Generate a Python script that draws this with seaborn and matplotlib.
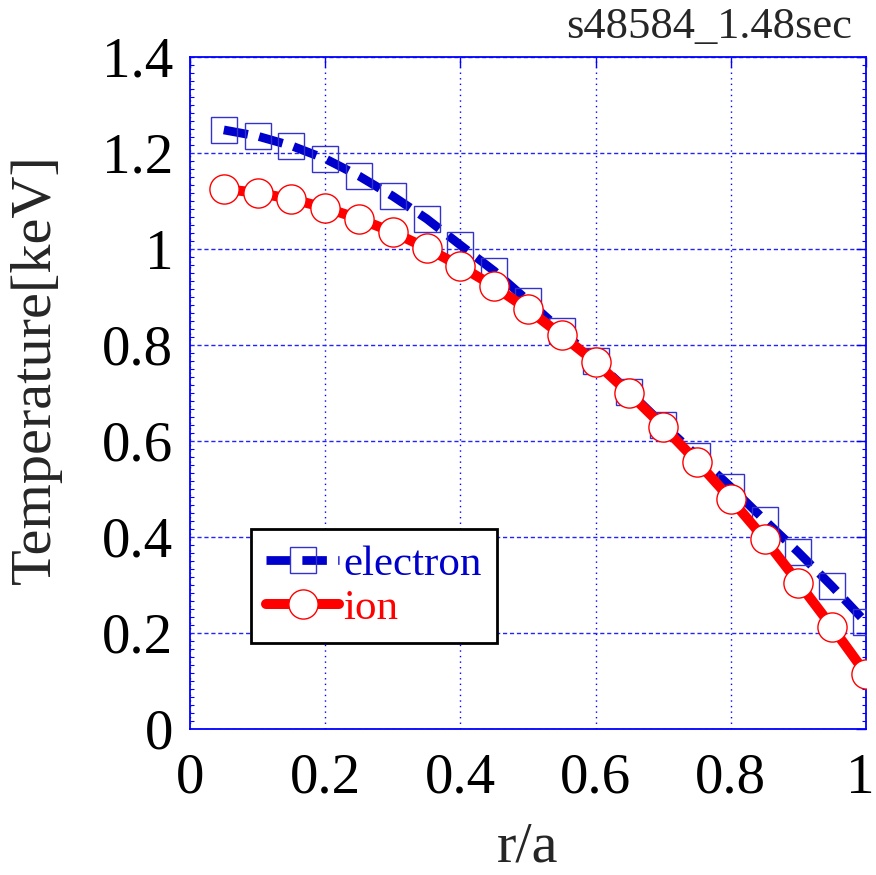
import matplotlib
matplotlib.use("Agg")
import matplotlib.pyplot as plt
import matplotlib.transforms as mtransforms
import seaborn as sns
from matplotlib.ticker import MultipleLocator, AutoMinorLocator

# profile data
r_over_a = [0.05, 0.10, 0.15, 0.20, 0.25, 0.30, 0.35, 0.40, 0.45, 0.50,
            0.55, 0.60, 0.65, 0.70, 0.75, 0.80, 0.85, 0.90, 0.95, 1.00]
te = [1.248, 1.235, 1.215, 1.188, 1.152, 1.110, 1.063, 1.008, 0.954, 0.892,
      0.829, 0.767, 0.702, 0.634, 0.569, 0.504, 0.435, 0.368, 0.297, 0.222]
ti = [1.125, 1.117, 1.104, 1.086, 1.063, 1.035, 1.002, 0.964, 0.922, 0.874,
      0.820, 0.764, 0.699, 0.630, 0.557, 0.479, 0.396, 0.305, 0.212, 0.115]
shot_label = "s48584_1.48sec"

sns.set_theme(style="white")
plt.rcParams["font.family"] = ["Liberation Serif", "DejaVu Serif"]

fig = plt.figure(figsize=(8.76, 8.75), dpi=100)
ax = fig.add_axes([0.2169, 0.1669, 0.7717, 0.7680])

blue = "#0000cc"
red = "#ff0000"

sns.lineplot(x=r_over_a, y=te, ax=ax, color=blue, linewidth=6.3,
             linestyle=(0, (2.8, 1.3)), marker="s", markersize=19,
             markerfacecolor="none", markeredgecolor="#3333cc",
             markeredgewidth=1.0, label="electron", zorder=3)
sns.lineplot(x=r_over_a, y=ti, ax=ax, color=red, linewidth=7.2,
             marker="o", markersize=21, markerfacecolor="white",
             markeredgecolor=red, markeredgewidth=1.0,
             label="ion", zorder=4)

ax.set_xlim(0, 1)
ax.set_ylim(0, 1.4)
ax.set_xticks([0, 0.2, 0.4, 0.6, 0.8, 1.0])
ax.yaxis.set_major_locator(MultipleLocator(0.2))
ax.yaxis.set_minor_locator(AutoMinorLocator(12))
ax.xaxis.set_major_formatter(plt.FuncFormatter(lambda v, p: f"{v:g}"))
ax.yaxis.set_major_formatter(plt.FuncFormatter(lambda v, p: f"{v:g}"))

# gnuplot-like blue frame and grid
for s in ax.spines.values():
    s.set_color("#0000ff")
    s.set_linewidth(1.3)
ax.set_axisbelow(True)
ax.xaxis.grid(True, color="#0000ff", linestyle=(0, (1, 3)), linewidth=1.0)
ax.yaxis.grid(True, color="#2222ff", linestyle=(0, (3, 2)), linewidth=1.0)
ax.tick_params(axis="both", which="major", direction="in", length=7,
               width=1, color="#0000ff", labelsize=41, labelcolor="black",
               top=True, right=True)
ax.tick_params(axis="x", which="major", pad=17)
ax.tick_params(axis="y", which="major", pad=12)
ax.tick_params(axis="y", which="minor", direction="in", length=3,
               width=0.8, color="#0000ff", left=True, right=True)

ax.set_xlabel("r/a", fontsize=42, labelpad=12)
ax.set_ylabel("Temperature[keV]", fontsize=42)
ax.yaxis.set_label_coords(-0.19, 0.535)

fig.text(0.973, 0.957, shot_label, fontsize=32, ha="right", va="baseline")

leg = ax.legend(loc="lower left", bbox_to_anchor=(0.090, 0.128),
                borderaxespad=0, fontsize=31, frameon=True, fancybox=False,
                framealpha=1, edgecolor="black", handlelength=1.7,
                handletextpad=0.1, labelspacing=0.12, borderpad=0.35)
leg.get_frame().set_linewidth(2)
for txt, c in zip(leg.get_texts(), [blue, red]):
    txt.set_color(c)

# nudge the "1" x tick label so it stays inside the figure
fig.canvas.draw()
for tick in ax.xaxis.get_major_ticks():
    if abs(tick.get_loc() - 1.0) < 1e-9:
        lbl = tick.label1
        lbl.set_transform(lbl.get_transform()
                          + mtransforms.ScaledTranslation(-0.06, 0, fig.dpi_scale_trans))

fig.savefig("out.png", dpi=100)
